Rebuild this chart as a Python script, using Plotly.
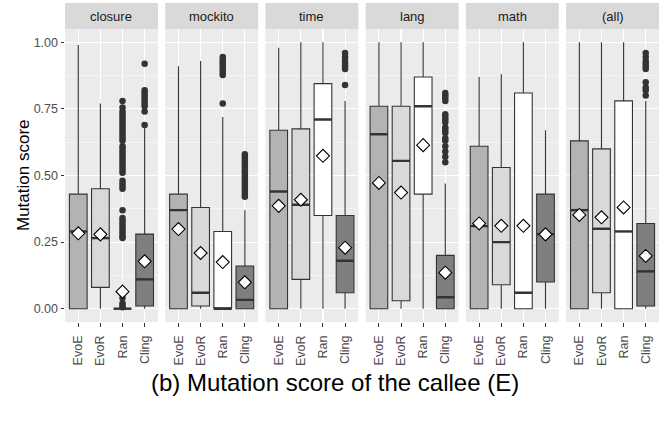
import plotly.graph_objects as go
from plotly.subplots import make_subplots

facets = ["closure", "mockito", "time", "lang", "math", "(all)"]
tools = ["EvoE", "EvoR", "Ran", "Cling"]
fills = ["#B3B3B3", "#D9D9D9", "#FFFFFF", "#7F7F7F"]

lowerfence = [[0, 0, 0, 0]] * 6
q1 = [[0, 0.08, 0, 0.01],
      [0, 0.01, 0, 0],
      [0, 0.11, 0.35, 0.06],
      [0, 0.03, 0.43, 0],
      [0, 0.09, 0, 0.10],
      [0, 0.06, 0, 0.01]]
median = [[0.29, 0.265, 0, 0.11],
          [0.37, 0.06, 0, 0.033],
          [0.44, 0.39, 0.71, 0.18],
          [0.655, 0.555, 0.76, 0.043],
          [0.31, 0.25, 0.06, 0.28],
          [0.37, 0.30, 0.29, 0.14]]
q3 = [[0.43, 0.45, 0, 0.28],
      [0.43, 0.38, 0.29, 0.16],
      [0.67, 0.675, 0.845, 0.35],
      [0.76, 0.76, 0.87, 0.20],
      [0.61, 0.53, 0.81, 0.43],
      [0.63, 0.60, 0.78, 0.32]]
upperfence = [[0.99, 0.77, 0, 0.68],
              [0.91, 0.93, 0.72, 0.37],
              [0.98, 1.0, 1.0, 0.78],
              [1.0, 1.0, 1.0, 0.47],
              [0.87, 0.88, 1.0, 0.67],
              [1.0, 1.0, 1.0, 0.78]]
means = [[0.283, 0.279, 0.064, 0.178],
         [0.299, 0.209, 0.175, 0.099],
         [0.386, 0.409, 0.574, 0.229],
         [0.472, 0.436, 0.614, 0.135],
         [0.320, 0.311, 0.311, 0.279],
         [0.352, 0.343, 0.380, 0.198]]

# outliers: (facet index, tool index) -> values
outliers = {
    (0, 2): [0.78, 0.755, 0.74, 0.73, 0.72, 0.71, 0.70, 0.69, 0.68, 0.67, 0.66, 0.65, 0.64,
             0.63, 0.61, 0.60, 0.59, 0.58, 0.57, 0.56, 0.55, 0.54, 0.53, 0.52, 0.51,
             0.47, 0.48, 0.46, 0.45, 0.37, 0.34, 0.33, 0.32, 0.31, 0.30, 0.29, 0.28,
             0.27, 0.265, 0.04, 0.02, 0.012, 0.005],
    (0, 3): [0.92, 0.82, 0.81, 0.80, 0.79, 0.78, 0.77, 0.76, 0.74, 0.69],
    (1, 2): [0.945, 0.935, 0.925, 0.915, 0.905, 0.895, 0.885, 0.877, 0.77],
    (1, 3): [0.58, 0.57, 0.56, 0.55, 0.54, 0.53, 0.52, 0.51, 0.50, 0.49, 0.48, 0.47,
             0.46, 0.45, 0.44, 0.43, 0.42],
    (2, 3): [0.96, 0.945, 0.93, 0.92, 0.91, 0.90, 0.84],
    (3, 3): [0.81, 0.80, 0.79, 0.78, 0.73, 0.72, 0.71, 0.70, 0.68, 0.67, 0.66, 0.64,
             0.63, 0.61, 0.59, 0.57, 0.55],
    (5, 3): [0.96, 0.945, 0.93, 0.92, 0.91, 0.90, 0.85, 0.83, 0.82, 0.80],
}

y_ticks = [0, 0.25, 0.5, 0.75, 1.0]
y_ticktext = ["0.00", "0.25", "0.50", "0.75", "1.00"]

W, H = 670, 432
ML, MR, MT, MB = 65, 11, 29, 110
PW = W - ML - MR
PH = H - MT - MB
BOXW = 0.8
LINE = "#333333"
FONT = "Liberation Sans, Arial, sans-serif"

fig = make_subplots(rows=1, cols=6, shared_yaxes=True,
                    horizontal_spacing=7.3 / PW)

for f in range(len(facets)):
    col = f + 1
    for t in range(len(tools)):
        fig.add_trace(go.Box(
            x=[t], q1=[q1[f][t]], median=[median[f][t]], q3=[q3[f][t]],
            lowerfence=[lowerfence[f][t]], upperfence=[upperfence[f][t]],
            width=BOXW, whiskerwidth=0, fillcolor=fills[t],
            line=dict(color=LINE, width=1.1), boxpoints=False,
            hoverinfo="skip", showlegend=False), row=1, col=col)
        # thick median
        fig.add_trace(go.Scatter(
            x=[t - BOXW / 2, t + BOXW / 2], y=[median[f][t]] * 2, mode="lines",
            line=dict(color=LINE, width=2.4), showlegend=False, hoverinfo="skip"),
            row=1, col=col)
        if (f, t) in outliers:
            vals = outliers[(f, t)]
            fig.add_trace(go.Scatter(
                x=[t] * len(vals), y=vals, mode="markers",
                marker=dict(color=LINE, size=6.5, line=dict(width=0)),
                showlegend=False, hoverinfo="skip"), row=1, col=col)
    fig.add_trace(go.Scatter(
        x=list(range(len(tools))), y=means[f], mode="markers",
        marker=dict(symbol="diamond", size=10, color="white",
                    line=dict(color="black", width=1.1)),
        showlegend=False, hoverinfo="skip"), row=1, col=col)

    xname = "x" if f == 0 else f"x{f + 1}"
    fig.add_shape(type="rect", xref=f"{xname} domain", yref="paper",
                  x0=0, x1=1, y0=1, y1=1 + 26 / PH,
                  fillcolor="#D9D9D9", line=dict(width=0), layer="below")
    fig.add_annotation(text=facets[f], xref=f"{xname} domain", yref="paper",
                       x=0.5, y=1 + 13 / PH, showarrow=False,
                       font=dict(size=13, color="#1A1A1A", family=FONT),
                       xanchor="center", yanchor="middle")

fig.update_xaxes(range=[-0.6, 3.6], tickvals=list(range(4)), ticktext=tools,
                 tickangle=-90, ticks="outside", ticklen=3.5, tickcolor=LINE,
                 tickwidth=1, showgrid=True, gridcolor="white", gridwidth=1.1,
                 zeroline=False, showline=False, ticklabelstandoff=4,
                 tickfont=dict(size=12.5, color="#4D4D4D", family=FONT))
fig.update_yaxes(range=[-0.05, 1.05], tickvals=y_ticks, ticktext=y_ticktext,
                 ticks="outside", ticklen=3.5, tickcolor=LINE, tickwidth=1,
                 showgrid=True, gridcolor="white", gridwidth=1.1,
                 zeroline=False, showline=False,
                 minor=dict(tickvals=[0.125, 0.375, 0.625, 0.875], showgrid=True,
                            gridcolor="white", gridwidth=0.5, ticks=""),
                 tickfont=dict(size=12.5, color="#4D4D4D", family=FONT))
for i in range(2, 7):
    fig.update_yaxes(showticklabels=False, ticks="", row=1, col=i)

fig.add_annotation(text="Mutation score", xref="paper", yref="paper",
                   x=(23.5 - ML) / PW, y=0.5, textangle=-90, showarrow=False,
                   font=dict(size=17, color="black", family=FONT),
                   xanchor="center", yanchor="middle")
fig.add_annotation(text="(b) Mutation score of the callee (E)", xref="paper",
                   yref="paper", x=(335 - ML) / PW,
                   y=-(382 - (MT + PH)) / PH,
                   showarrow=False, font=dict(size=24, color="black", family=FONT),
                   xanchor="center", yanchor="middle")

fig.update_layout(width=W, height=H, margin=dict(l=ML, r=MR, t=MT, b=MB),
                  plot_bgcolor="#EBEBEB", paper_bgcolor="white",
                  font=dict(family=FONT), showlegend=False)

fig.write_html("out.html",
               config={"displayModeBar": False, "staticPlot": True},
               post_script="document.body.style.margin='0';"
                           "document.body.style.overflow='hidden';")
